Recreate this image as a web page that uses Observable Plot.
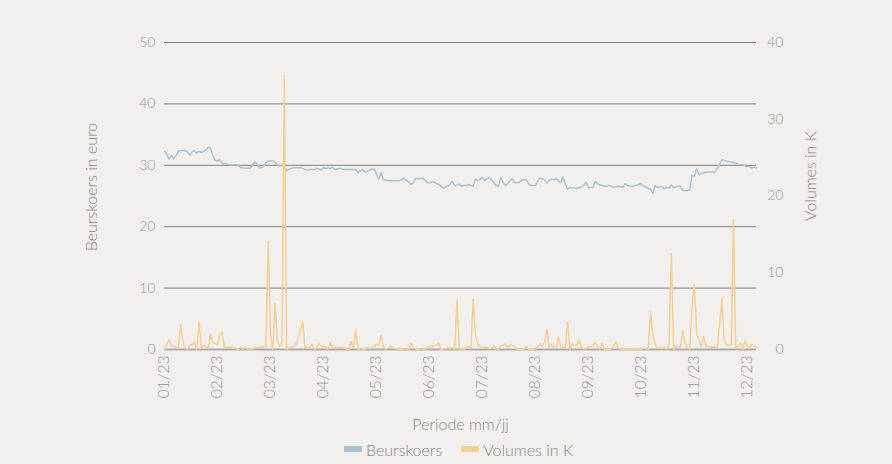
<!DOCTYPE html>
<html>
<head>
<meta charset="utf-8">
<script src="https://cdn.jsdelivr.net/npm/d3@7"></script>
<script src="https://cdn.jsdelivr.net/npm/@observablehq/plot@0.6"></script>
<style>
  html, body { margin: 0; padding: 0; background: #f2f0ee; }
  body { width: 892px; height: 464px; position: relative; overflow: hidden; font-family: Lato, "Open Sans", sans-serif; font-weight: 300; }
  #legend { position: absolute; left: 344px; top: 440px; height: 18px; display: flex; align-items: center; font-size: 16px; color: #858585; }
  .item { display: flex; align-items: center; margin-right: 19px; }
  .sw { width: 18px; height: 6px; margin-right: 4px; }
</style>
</head>
<body>
<div id="chart"></div>
<div id="legend"></div>
<script>
// ---- data ----
const tickLabels = ["01/23","02/23","03/23","04/23","05/23","06/23","07/23","08/23","09/23","10/23","11/23","12/23"];
const tickStep = 23; // trading days between labels
const leftTicks = [0, 10, 20, 30, 40, 50];
const rightTicks = [0, 10, 20, 30, 40];
const seriesNames = ["Beurskoers", "Volumes in K"];
const seriesColors = ["#a9c3d3", "#f6cf93"];

// share price (euro), one value per trading day
const price = [
32.3,31.8,31.0,31.6,31.0,31.6,32.3,32.4,32.4,32.4,32.2,31.6,32.2,32.4,32.0,32.3,32.1,32.3,32.5,32.95,
32.8,31.6,30.8,30.7,30.9,30.3,30.3,30.2,30.1,30.1,30.1,30.1,30.1,29.6,29.6,29.5,29.5,29.5,29.9,30.5,
30.3,29.6,29.6,29.8,30.4,30.7,30.7,30.7,30.5,30.1,29.9,30.0,29.9,29.1,29.4,29.5,29.6,29.6,29.6,29.6,
29.5,29.3,29.2,29.3,29.3,29.3,29.5,29.4,29.2,29.6,29.5,29.5,29.5,29.7,29.3,29.4,29.5,29.4,29.3,29.3,
29.3,29.3,29.3,29.3,28.8,29.1,29.3,28.9,29.0,29.2,29.4,29.4,28.6,27.7,28.8,27.7,27.6,27.5,27.5,27.5,
27.5,27.5,27.5,27.7,27.9,27.5,27.3,26.9,27.2,27.9,27.8,27.8,27.9,27.6,27.25,27.1,27.3,27.3,27.0,26.9,
26.6,26.3,26.5,26.6,26.9,27.4,26.6,26.8,26.9,26.6,26.7,26.7,26.9,26.7,26.6,27.8,27.5,27.7,28.0,27.5,
27.8,28.0,27.6,27.2,26.7,26.6,28.0,27.2,26.7,27.0,27.5,27.8,27.2,27.2,27.2,27.6,27.7,27.6,27.0,26.7,
26.7,26.7,27.4,27.9,27.8,27.6,27.1,27.6,27.7,27.7,27.8,27.5,27.2,28.1,26.9,26.1,26.4,26.3,26.3,26.3,
26.3,26.5,26.7,27.3,26.4,26.4,26.4,27.4,27.0,26.8,26.7,26.6,26.6,26.7,26.6,26.4,26.5,26.6,26.5,26.4,
27.0,26.7,26.6,26.6,26.6,26.8,26.9,27.0,26.6,26.5,26.2,26.2,25.4,26.7,26.4,26.5,26.5,26.2,26.4,26.3,
26.8,26.4,26.5,26.6,26.6,25.9,25.9,25.9,26.0,28.4,28.2,29.4,28.5,28.7,28.8,28.9,28.9,28.9,28.9,28.9,
29.5,30.2,30.9,30.8,30.6,30.6,30.5,30.5,30.4,30.1,30.1,30.1,29.9,29.8,29.8,29.6,29.7,29.6
];

// traded volume (thousands), one value per trading day
const volume = [
0,0.6,1.3,0.5,0.4,0.2,0.3,3.3,1.0,0.2,0,0.6,0.6,1.0,0,3.6,0.2,0.5,0.3,0.2,
2.0,0.9,0.8,0.6,2.0,2.3,0.2,0.3,0.3,0.3,0.2,0.1,0,0.3,0,0.3,0,0,0,0.2,
0.3,0.3,0.4,0.3,0.4,14.1,2.0,0,6.0,1.2,0.4,0.9,35.7,0,0.2,0.3,0.4,0.6,1.5,2.4,
3.6,0.2,0.2,0.2,0.7,0,0.1,0.8,0.4,0.4,0.3,0,0.9,0.2,0.2,0.2,0.3,0.2,0.2,0.1,
0,1.0,0.2,2.5,0,0,0,0,0.3,0.1,0.2,0.4,0.7,0.5,1.8,0.4,0,0.2,0.4,0.2,
0.1,0.1,0,0,0.1,0.1,0,0.8,0.3,0.1,0,0.1,0.1,0,0.2,0.4,0.5,0.5,0.5,0.9,
0,0.1,0.1,0.2,0.1,0.2,0,6.4,0,0,0,0.2,0.4,0.1,6.5,1.9,0.5,0.4,0.2,0.3,
0.3,0.1,0.2,0.5,0,0,0.5,0.6,0.7,0.2,0.6,0.5,0.4,0,0,0,0,0.4,0,0,
0,0.1,0.3,0.7,0.4,1.0,2.6,0.2,0.6,0.4,0.2,1.6,0.4,0.2,0.3,3.6,0,0.7,0.5,0.6,
1.3,0.2,0.1,0.1,0.4,0.3,0.5,0.9,0.4,0,0.8,0,0,0,0.1,0.4,1.0,0.2,0,0.1,
0,0,0,0,0.1,0,0,0,0.2,0.1,0,4.9,2.0,0.6,0.3,0.2,0.1,0.3,0,0.6,
12.5,0,0.4,0.4,0.3,2.4,0.8,0.3,0,5.5,8.4,2.3,1.2,0.3,1.7,0.4,0.4,0.4,0.3,0.3,
0.3,3.3,6.6,1.2,0.6,0.6,0.5,16.9,0.2,0.4,0.8,0,1.2,0.4,0.2,0.7,0.4,0.3
];

// ---- build ----
const ratio = leftTicks[leftTicks.length - 1] / rightTicks[rightTicks.length - 1];
const rows = price.map((p, i) => ({i, price: p, vol: volume[i] * ratio}));
const lastIdx = price.length - 1;
const tickIdx = tickLabels.map((_, k) => k * tickStep);
const tickColor = "#939393";
const titleColor = "#858585";

const chart = Plot.plot({
  width: 892,
  height: 440,
  marginLeft: 164,
  marginRight: 136,
  marginTop: 42,
  marginBottom: 91,
  style: {background: "transparent", fontFamily: "Lato, 'Open Sans', sans-serif", fontWeight: 300, color: tickColor},
  x: {domain: [0, lastIdx]},
  y: {domain: [leftTicks[0], leftTicks[leftTicks.length - 1]]},
  marks: [
    Plot.ruleY(leftTicks.filter(d => d > 0), {stroke: "#7f7f7f", strokeWidth: 1}),
    Plot.ruleY([0], {stroke: "#ababab", strokeWidth: 2}),
    Plot.lineY(rows, {x: "i", y: "price", stroke: seriesColors[0], strokeWidth: 1.5}),
    Plot.lineY(rows, {x: "i", y: "vol", stroke: seriesColors[1], strokeWidth: 1.5}),
    Plot.axisY(leftTicks, {anchor: "left", tickSize: 0, tickPadding: 9, fontSize: 14, label: null}),
    Plot.text(rightTicks, {x: () => lastIdx, y: d => d * ratio, text: d => String(d), textAnchor: "end", dx: 27, fontSize: 14, fill: tickColor}),
    Plot.axisX(tickIdx, {anchor: "bottom", tickSize: 0, tickPadding: 6, tickRotate: -90, fontSize: 15.5,
      tickFormat: d => tickLabels[tickIdx.indexOf(d)], label: null}),
    Plot.text(["Beurskoers in euro"], {frameAnchor: "left", textAnchor: "middle", rotate: -90, dx: -73, dy: -9, fontSize: 16, fill: titleColor}),
    Plot.text(["Volumes in K"], {frameAnchor: "right", textAnchor: "middle", rotate: -90, dx: 54, dy: -20, fontSize: 16, fill: titleColor}),
    Plot.text(["Periode mm/jj"], {frameAnchor: "bottom", dy: 80, fontSize: 16, fill: titleColor})
  ]
});
document.getElementById("chart").appendChild(chart);

const legend = document.getElementById("legend");
seriesNames.forEach((name, k) => {
  const it = document.createElement("div");
  it.className = "item";
  const sw = document.createElement("span");
  sw.className = "sw";
  sw.style.background = seriesColors[k];
  const tx = document.createElement("span");
  tx.textContent = name;
  it.appendChild(sw); it.appendChild(tx);
  legend.appendChild(it);
});
</script>
</body>
</html>
